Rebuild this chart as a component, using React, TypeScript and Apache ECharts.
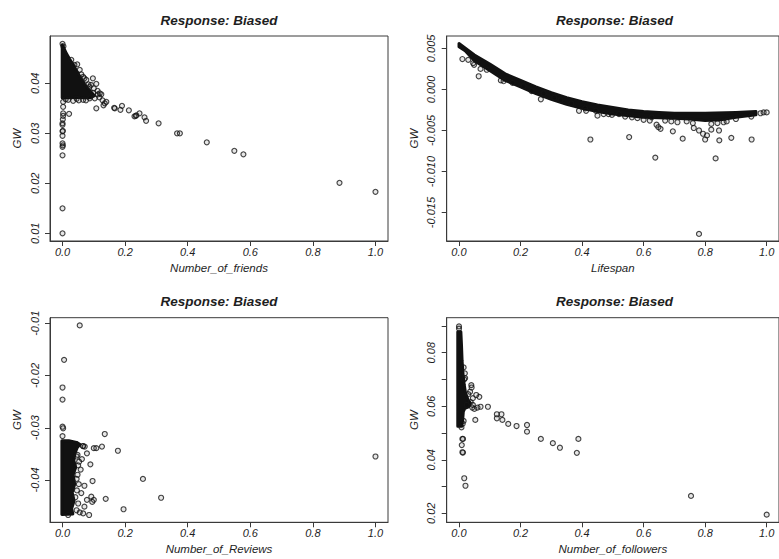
import React, { useEffect, useRef } from "react";
import * as echarts from "echarts";

// ---------- data ----------
const xTicks = [0, 0.2, 0.4, 0.6, 0.8, 1.0];
const titles = ["Response: Biased", "Response: Biased", "Response: Biased", "Response: Biased"];
const xNames = ["Number_of_friends", "Lifespan", "Number_of_Reviews", "Number_of_followers"];

const friendsYTicks = [0.01, 0.02, 0.03, 0.04];
const lifespanYTicks = [0.005, 0.0, -0.005, -0.01, -0.015];
const reviewsYTicks = [-0.01, -0.02, -0.03, -0.04];
const followersYTicks = [0.02, 0.03, 0.04, 0.05, 0.06, 0.07, 0.08, 0.09];
const followersYLabels = [0.02, 0.04, 0.06, 0.08];

// dense (overplotted) regions, outline in data units
const friendsCore = [
  [-0.001, 0.0477], [0.004, 0.0471], [0.012, 0.046], [0.022, 0.0449], [0.032, 0.0439],
  [0.042, 0.0428], [0.052, 0.0417], [0.062, 0.0406], [0.072, 0.0397], [0.082, 0.0389],
  [0.092, 0.0382], [0.102, 0.0375], [0.09, 0.0371], [0.065, 0.0371], [0.04, 0.0372],
  [0.02, 0.0371], [-0.001, 0.0371],
];
const friendsPoints = [
  [0, 0.0479], [0.003, 0.0474], [0.047, 0.0438], [0.055, 0.0427], [0.066, 0.0413], [0.076, 0.0407],
  [0.097, 0.041], [0.091, 0.0397], [0.108, 0.0399], [0.119, 0.038], [0.112, 0.0385], [0.103, 0.037],
  [0.087, 0.037], [0.066, 0.0367], [0.052, 0.0366], [0.034, 0.0365], [0.018, 0.0367], [0.002, 0.0363],
  [0.128, 0.0366], [0.135, 0.036], [0.14, 0.0363], [0.131, 0.0356], [0.108, 0.035], [0.118, 0.0372],
  [0.124, 0.0378], [0.002, 0.0353], [0.002, 0.034], [0.021, 0.0339], [0.002, 0.0335], [0.001, 0.0328],
  [0.0, 0.032], [0.0, 0.0317], [0.001, 0.0305], [0.0, 0.0304], [0.0, 0.0295], [0.0, 0.028],
  [0.001, 0.0276], [0.0, 0.0273], [0.0, 0.0256], [0.0, 0.015], [0.0, 0.01], [0.167, 0.035],
  [0.165, 0.0351], [0.185, 0.0347], [0.19, 0.0355], [0.212, 0.0346], [0.23, 0.0334], [0.234, 0.0335],
  [0.236, 0.0336], [0.246, 0.034], [0.262, 0.0332], [0.267, 0.0325], [0.307, 0.032], [0.366, 0.03],
  [0.375, 0.03], [0.461, 0.0282], [0.549, 0.0265], [0.578, 0.0258], [0.885, 0.0201], [1.0, 0.0183],
  [0.06, 0.0418], [0.07, 0.041], [0.083, 0.0398], [0.1, 0.039], [0.113, 0.0378], [0.098, 0.0381],
  [0.045, 0.0369], [0.075, 0.0366], [0.01, 0.0368], [0.028, 0.0447], [0.038, 0.0437], [0.086, 0.0393],
];

const lifespanCore = [
  [0, 0.0056], [0.05, 0.0042], [0.1, 0.0031], [0.15, 0.0019], [0.2, 0.0011], [0.25, 0.0003],
  [0.3, -0.0004], [0.35, -0.001], [0.4, -0.0015], [0.45, -0.0019], [0.5, -0.0022], [0.55, -0.0025],
  [0.6, -0.0027], [0.65, -0.0028], [0.7, -0.0029], [0.8, -0.0029], [0.9, -0.0028], [0.965, -0.0027],
  [0.965, -0.0031], [0.9, -0.0034], [0.85, -0.0037], [0.8, -0.0038], [0.75, -0.0036], [0.7, -0.0035],
  [0.6, -0.0034], [0.5, -0.003], [0.45, -0.0027], [0.4, -0.0023], [0.35, -0.0018], [0.3, -0.0012],
  [0.25, -0.0005], [0.2, 0.0003], [0.15, 0.0011], [0.1, 0.0023], [0.05, 0.0035], [0.02, 0.0047],
  [0, 0.0052],
];
const lifespanPoints = [
  [0.011, 0.0037], [0.03, 0.0036], [0.046, 0.0032], [0.049, 0.003], [0.064, 0.0016], [0.07, 0.0025],
  [0.09, 0.0024], [0.136, 0.0011], [0.145, 0.001], [0.174, 0.0008], [0.21, 0.0004], [0.236, -0.0002],
  [0.266, -0.0012], [0.275, -0.0005], [0.31, -0.001], [0.33, -0.0013], [0.365, -0.0017], [0.41, -0.0023],
  [0.413, -0.0026], [0.427, -0.0061], [0.445, -0.0026], [0.45, -0.0032], [0.486, -0.003], [0.497, -0.0031],
  [0.52, -0.003], [0.553, -0.0058], [0.562, -0.0034], [0.58, -0.0035], [0.6, -0.0037], [0.626, -0.0034],
  [0.638, -0.0083], [0.642, -0.0043], [0.648, -0.0046], [0.655, -0.0048], [0.67, -0.0038], [0.695, -0.0051],
  [0.71, -0.004], [0.727, -0.006], [0.74, -0.0039], [0.763, -0.0047], [0.78, -0.005], [0.78, -0.0176],
  [0.793, -0.0054], [0.8, -0.0061], [0.806, -0.0056], [0.82, -0.0049], [0.834, -0.0084], [0.845, -0.005],
  [0.846, -0.0062], [0.86, -0.004], [0.885, -0.0059], [0.9, -0.0036], [0.951, -0.0061], [0.95, -0.0033],
  [0.98, -0.0029], [0.99, -0.0028], [1.0, -0.0028], [0.69, -0.0039], [0.76, -0.0041], [0.82, -0.0042],
  [0.84, -0.0041], [0.87, -0.0039], [0.62, -0.0038], [0.54, -0.0033], [0.47, -0.003], [0.39, -0.0026],
];

const reviewsCore = [
  [-0.002, -0.0325], [0.02, -0.0325], [0.045, -0.0328], [0.056, -0.0332], [0.047, -0.0338],
  [0.04, -0.0348], [0.036, -0.0362], [0.042, -0.0376], [0.034, -0.039], [0.039, -0.0408],
  [0.031, -0.0424], [0.037, -0.044], [0.029, -0.0455], [0.033, -0.0465], [-0.002, -0.0466],
];
const reviewsPoints = [
  [0.055, -0.0104], [0.005, -0.017], [0, -0.0223], [0, -0.0246], [0, -0.0298], [0.002, -0.0301],
  [0, -0.0316], [0.135, -0.0312], [0.126, -0.0336], [0.108, -0.0339], [0.1, -0.0339], [0.177, -0.0344],
  [0.078, -0.0349], [0.089, -0.037], [0.053, -0.0365], [0.071, -0.0336], [0.065, -0.0335], [0.096, -0.0402],
  [0.257, -0.0398], [0.315, -0.0434], [0.138, -0.0436], [0.092, -0.0432], [0.095, -0.0442], [0.1, -0.0438],
  [0.078, -0.0438], [0.195, -0.0456], [0.07, -0.0451], [0.085, -0.0467], [0.066, -0.0464], [0.018, -0.0467],
  [1.0, -0.0355], [0.052, -0.0408], [0.07, -0.0411], [0.048, -0.039], [0.058, -0.038], [0.062, -0.036],
  [0.045, -0.0355], [0.046, -0.042], [0.05, -0.0445], [0.06, -0.0425], [0.045, -0.0458], [0.05, -0.0372],
  [0.066, -0.0335], [0.045, -0.0398], [0.041, -0.0433], [0.055, -0.0462], [0.048, -0.0352],
];

const followersCore = [
  [-0.004, 0.0878], [0.006, 0.0878], [0.008, 0.083], [0.01, 0.077], [0.013, 0.072], [0.017, 0.068],
  [0.021, 0.065], [0.029, 0.0625], [0.037, 0.0612], [0.031, 0.0598], [0.019, 0.0592], [0.014, 0.058],
  [0.012, 0.055], [0.009, 0.0525], [-0.004, 0.0525],
];
const followersPoints = [
  [0, 0.0898], [0, 0.089], [0.019, 0.0723], [0.017, 0.07], [0.04, 0.0679], [0.041, 0.067], [0.036, 0.0654],
  [0.056, 0.0642], [0.066, 0.0635], [0.03, 0.0645], [0.045, 0.063], [0.053, 0.0549], [0.043, 0.0595],
  [0.05, 0.059], [0.06, 0.0595], [0.07, 0.0598], [0.094, 0.0598], [0.123, 0.057], [0.138, 0.057],
  [0.123, 0.0555], [0.141, 0.0549], [0.16, 0.0534], [0.187, 0.0526], [0.221, 0.053], [0.221, 0.0505],
  [0.266, 0.0478], [0.305, 0.0462], [0.328, 0.0445], [0.388, 0.0478], [0.383, 0.0426], [0.011, 0.0478],
  [0.013, 0.0478], [0.009, 0.0455], [0.011, 0.0428], [0.013, 0.0427], [0.017, 0.0331], [0.021, 0.0303],
  [0.754, 0.0265], [1.0, 0.0195], [0.008, 0.0521], [0.012, 0.0535], [0.015, 0.0545], [0.045, 0.0605],
  [0.038, 0.0615], [0.025, 0.0605], [0.02, 0.0705], [0.015, 0.0745],
];

// ---------- layout ----------
const FONT = "'Liberation Sans', Arial, sans-serif";
const INK = "#1e1e1e";
const LINE = "#3a3a3a";
const grids = [
  { left: 50, top: 36, width: 338, height: 205 },
  { left: 446.7, top: 36, width: 338.5, height: 205 },
  { left: 50, top: 317.7, width: 338, height: 204.6 },
  { left: 446.7, top: 317.7, width: 338.5, height: 204.6 },
];
const yRanges = [
  [0.00846, 0.04946],
  [-0.01846, 0.006506],
  [-0.0481, -0.00893],
  [0.01664, 0.09307],
];

const labelText = {
  fontFamily: FONT,
  fontStyle: "italic",
  fontSize: 11,
  color: INK,
};

function makeX(i: number) {
  return {
    type: "value",
    gridIndex: i,
    min: -0.04,
    max: 1.04,
    axisLine: { show: true, onZero: false, lineStyle: { color: LINE, width: 1 } },
    splitLine: { show: false },
    axisTick: { show: true, length: 5, customValues: xTicks, lineStyle: { color: LINE, width: 1 } },
    axisLabel: { ...labelText, customValues: xTicks, margin: 5, formatter: (v: number) => v.toFixed(1) },
    name: xNames[i],
    nameLocation: "middle",
    nameGap: 21,
    nameTextStyle: { ...labelText, fontSize: 11.5 },
  };
}

function makeY(i: number, ticks: number[], labels: number[], digits: number) {
  return {
    type: "value",
    gridIndex: i,
    min: yRanges[i][0],
    max: yRanges[i][1],
    axisLine: { show: true, onZero: false, lineStyle: { color: LINE, width: 1 } },
    splitLine: { show: false },
    axisTick: { show: true, length: 5, customValues: ticks, lineStyle: { color: LINE, width: 1 } },
    axisLabel: {
      ...labelText,
      customValues: labels,
      rotate: 90,
      margin: 10,
      formatter: (v: number) => v.toFixed(digits),
    },
    name: "GW",
    nameLocation: "middle",
    nameGap: 27,
    nameTextStyle: { ...labelText, fontSize: 11.5 },
  };
}

function coreSeries(i: number, core: number[][]) {
  return {
    type: "custom",
    xAxisIndex: i,
    yAxisIndex: i,
    silent: true,
    z: 2,
    data: [core[0]],
    renderItem: (_params: any, api: any) => ({
      type: "polygon",
      shape: { points: core.map((p) => api.coord(p)) },
      style: { fill: "#111", stroke: "#111", lineWidth: 3, lineJoin: "round" },
    }),
  };
}

function pointSeries(i: number, pts: number[][]) {
  return {
    type: "scatter",
    xAxisIndex: i,
    yAxisIndex: i,
    z: 3,
    symbol: "circle",
    symbolSize: 5,
    silent: true,
    data: pts,
    itemStyle: { color: "rgba(0,0,0,0.12)", borderColor: "#151515", borderWidth: 1.15 },
  };
}

export default function App() {
  const ref = useRef<HTMLDivElement>(null);
  useEffect(() => {
    if (!ref.current) return;
    const chart = echarts.init(ref.current, null, { renderer: "svg" });
    const titleGraphics = grids.map((g, i) => ({
      type: "text",
      x: g.left + g.width / 2 - (i % 2 === 1 ? 1.5 : 0),
      y: i < 2 ? 20 : 301.5,
      style: {
        text: titles[i],
        fontFamily: FONT,
        fontStyle: "italic",
        fontWeight: "bold",
        fontSize: 13.5,
        fill: INK,
        align: "center",
        verticalAlign: "middle",
      },
    }));
    chart.setOption({
      animation: false,
      backgroundColor: "#ffffff",
      grid: grids.map((g) => ({ ...g, show: true, borderColor: LINE, borderWidth: 1, backgroundColor: "transparent" })),
      xAxis: [0, 1, 2, 3].map((i) => makeX(i)),
      yAxis: [
        makeY(0, friendsYTicks, friendsYTicks, 2),
        makeY(1, lifespanYTicks, lifespanYTicks, 3),
        makeY(2, reviewsYTicks, reviewsYTicks, 2),
        makeY(3, followersYTicks, followersYLabels, 2),
      ],
      graphic: titleGraphics,
      series: [
        coreSeries(0, friendsCore),
        pointSeries(0, friendsPoints),
        coreSeries(1, lifespanCore),
        pointSeries(1, lifespanPoints),
        coreSeries(2, reviewsCore),
        pointSeries(2, reviewsPoints),
        coreSeries(3, followersCore),
        pointSeries(3, followersPoints),
      ],
    });
    return () => chart.dispose();
  }, []);
  return (
    <div
      ref={ref}
      style={{ position: "absolute", left: 0, top: 0, width: 779, height: 559, background: "#fff" }}
    />
  );
}
